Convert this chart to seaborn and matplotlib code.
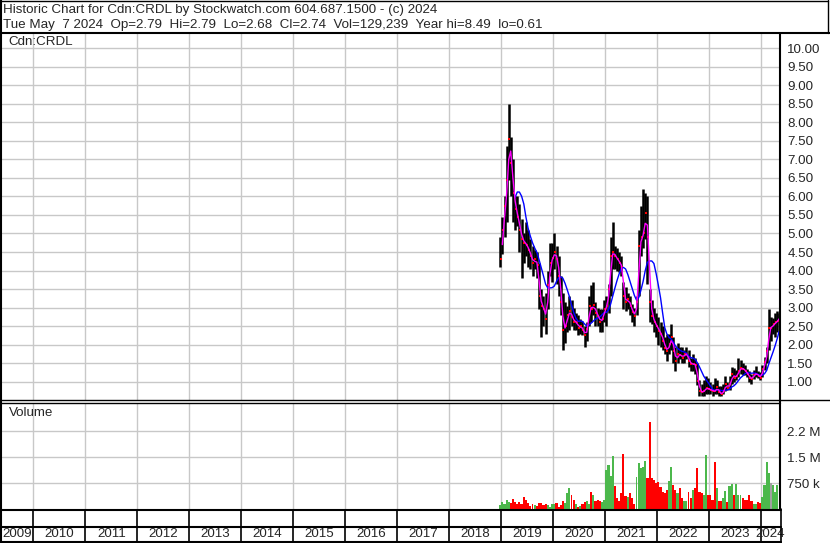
import numpy as np
import pandas as pd
import matplotlib
matplotlib.use("Agg")
import matplotlib.pyplot as plt
from matplotlib.lines import Line2D
import seaborn as sns

# semi-monthly bars, Dec 15 2018 .. May 7 2024
highs = [4.9, 5.45, 6.0, 7.35, 8.49, 7.6, 7.0, 6.0, 6.0, 5.8,
         5.4, 5.0, 5.3, 5.1, 4.85, 4.65, 4.55, 4.5, 4.2, 3.5,
         3.3, 3.4, 4.0, 4.75, 4.75, 5.0, 4.65, 4.4, 3.85, 3.4,
         3.15, 3.05, 3.3, 3.2, 3.0, 2.85, 2.8, 2.7, 2.65, 2.5,
         2.6, 3.3, 3.6, 3.7, 3.15, 3.0, 2.95, 2.95, 3.2, 3.3,
         3.65, 4.9, 5.3, 4.65, 4.6, 4.5, 4.4, 3.7, 3.55, 3.4,
         3.3, 3.1, 3.0, 3.3, 5.1, 5.75, 6.2, 6.1, 6.0, 3.5,
         3.2, 3.0, 2.85, 2.75, 2.6, 2.5, 2.2, 2.3, 2.3, 2.55,
         2.2, 1.95, 2.05, 1.95, 1.95, 1.85, 1.95, 1.85, 1.65, 1.75,
         1.65, 1.5, 1.05, 0.95, 1.05, 1.15, 1.1, 1.0, 0.95, 1.1,
         1.05, 0.88, 0.88, 0.95, 1.15, 1.0, 1.15, 1.4, 1.38, 1.32,
         1.65, 1.58, 1.5, 1.45, 1.35, 1.28, 1.22, 1.32, 1.42, 1.28,
         1.25, 1.45, 1.68, 1.95, 2.95, 2.75, 2.72, 2.85, 2.9, 2.85]
lows = [4.1, 4.45, 4.9, 5.3, 6.45, 6.0, 5.3, 5.1, 5.2, 4.5,
        3.8, 4.2, 4.4, 4.1, 4.05, 3.85, 4.05, 3.8, 2.95, 2.2,
        2.5, 2.3, 2.95, 3.85, 3.7, 4.05, 3.65, 3.3, 2.8, 1.85,
        2.05, 2.35, 2.4, 2.5, 2.4, 2.4, 2.25, 2.3, 2.25, 1.95,
        2.1, 2.5, 2.6, 2.8, 2.5, 2.5, 2.35, 2.35, 2.6, 2.5,
        2.85, 3.3, 4.05, 4.05, 4.0, 3.95, 3.85, 2.95, 2.9, 2.95,
        2.8, 2.6, 2.5, 2.8, 3.3, 4.4, 4.6, 4.85, 3.65, 2.6,
        2.55, 2.35, 2.2, 2.0, 1.95, 1.85, 1.75, 1.55, 1.75, 1.85,
        1.5, 1.3, 1.5, 1.6, 1.5, 1.5, 1.6, 1.4, 1.3, 1.3,
        1.2, 0.9, 0.62, 0.61, 0.62, 0.66, 0.66, 0.66, 0.62, 0.68,
        0.68, 0.62, 0.62, 0.68, 0.74, 0.78, 0.78, 0.95, 1.0, 1.05,
        1.12, 1.22, 1.18, 1.18, 1.12, 1.0, 0.95, 1.08, 1.12, 1.1,
        1.05, 1.12, 1.32, 1.5, 1.85, 2.1, 2.3, 2.2, 2.35, 2.6]
closes = [4.3, 5.1, 5.75, 6.45, 7.55, 6.9, 6.1, 5.65, 5.45, 5.1,
          4.85, 4.75, 4.7, 4.55, 4.4, 4.2, 4.3, 4.15, 3.3, 3.05,
          2.95, 2.7, 3.6, 4.2, 4.35, 4.5, 4.3, 3.85, 3.15, 2.4,
          2.5, 2.8, 2.9, 2.75, 2.6, 2.62, 2.45, 2.5, 2.4, 2.25,
          2.42, 3.05, 2.95, 3.07, 2.85, 2.78, 2.6, 2.7, 2.95, 3.05,
          3.5, 4.4, 4.5, 4.38, 4.3, 4.2, 4.1, 3.3, 3.15, 3.22,
          3.05, 2.88, 2.78, 3.14, 4.65, 4.9, 5.0, 5.55, 4.9, 3.15,
          2.78, 2.6, 2.5, 2.38, 2.28, 2.1, 1.92, 1.83, 2.01, 2.2,
          1.83, 1.56, 1.74, 1.73, 1.65, 1.74, 1.75, 1.56, 1.47, 1.48,
          1.46, 1.02, 0.75, 0.71, 0.76, 0.84, 0.8, 0.78, 0.75, 0.74,
          0.85, 0.71, 0.66, 0.75, 0.93, 0.84, 0.93, 1.2, 1.11, 1.16,
          1.29, 1.38, 1.34, 1.29, 1.2, 1.11, 1.07, 1.2, 1.22, 1.16,
          1.11, 1.34, 1.52, 1.83, 2.46, 2.46, 2.55, 2.6, 2.65, 2.74]
volumes_k = [125, 200, 145, 270, 200, 170, 290, 200, 145, 200,
             145, 345, 270, 170, 105, 145, 125, 105, 170, 170,
             125, 145, 125, 75, 145, 145, 170, 75, 125, 240,
             170, 460, 605, 415, 270, 145, 75, 95, 145, 220,
             240, 145, 490, 415, 240, 270, 240, 200, 270, 1130,
             1280, 960, 1540, 675, 320, 240, 460, 1590, 385, 365,
             460, 320, 145, 940, 1330, 1200, 1230, 1390, 900, 2530,
             895, 845, 750, 800, 655, 510, 480, 560, 815, 1210,
             700, 560, 460, 605, 315, 240, 240, 490, 315, 560,
             605, 1200, 510, 460, 415, 1570, 415, 415, 270, 1370,
             625, 240, 240, 315, 530, 220, 685, 730, 415, 730,
             415, 415, 335, 270, 270, 415, 240, 145, 145, 200,
             170, 365, 700, 1350, 1040, 750, 700, 510, 700, 270]

price_ticks = [1.0, 1.5, 2.0, 2.5, 3.0, 3.5, 4.0, 4.5, 5.0, 5.5,
               6.0, 6.5, 7.0, 7.5, 8.0, 8.5, 9.0, 9.5, 10.0]
vol_ticks = [750000, 1500000, 2250000]
vol_tick_labels = ["750 k", "1.5 M", "2.2 M"]
years = list(range(2009, 2025))

title_line1 = "Historic Chart for Cdn:CRDL by Stockwatch.com 604.687.1500 - (c) 2024"
title_line2 = ("Tue May  7 2024  Op=2.79  Hi=2.79  Lo=2.68  Cl=2.74  "
               "Vol=129,239  Year hi=8.49  lo=0.61")

W, H = 830, 543
GRID = "#c8c8c8"
FS = 9.6


def dec_year(ts):
    start = pd.Timestamp(year=ts.year, month=1, day=1)
    end = pd.Timestamp(year=ts.year + 1, month=1, day=1)
    return ts.year + (ts - start) / (end - start)


def box(l, t, r, b):
    return [l / W, 1 - b / H, (r - l) / W, (b - t) / H]


def fig_line(fig, x0, y0, x1, y1, lw=1.0):
    fig.add_artist(Line2D([x0 / W, x1 / W], [1 - y0 / H, 1 - y1 / H],
                          transform=fig.transFigure, color="black", lw=lw))


starts = list(pd.date_range("2018-12-15", "2024-05-01", freq="SMS"))
ends = starts[1:] + [pd.Timestamp("2024-05-08")]
df = pd.DataFrame({"high": highs, "low": lows, "close": closes,
                   "volume": np.array(volumes_k) * 1000})
df["t0"] = [dec_year(s) for s in starts]
df["t1"] = [dec_year(e) for e in ends]
df["x"] = (df["t0"] + df["t1"]) / 2
df["w"] = df["t1"] - df["t0"]
df["ma_short"] = df["close"].rolling(2).mean()
df["ma_long"] = df["close"].rolling(8).mean()
chg = df["close"].diff().fillna(1)
df["vcolor"] = np.where(chg > 0, "#4cb84c", np.where(chg < 0, "#ff0000", "#a0a0a0"))

sns.set_style("white")
plt.rcParams["font.family"] = ["Liberation Sans", "DejaVu Sans"]
plt.rcParams["font.size"] = FS

fig = plt.figure(figsize=(W / 100, H / 100), dpi=100)
xlim = (2009.398, 2024.34)

# price panel
ax = fig.add_axes(box(2, 33, 779, 401))
ax.set_xlim(*xlim)
ax.set_ylim(0.48, 10.41)
ax.set_xticks(years[1:])
ax.set_yticks(price_ticks)
ax.set_yticklabels([f"{v:.2f}" for v in price_ticks])
ax.grid(True, color=GRID, lw=1.0)
ax.yaxis.tick_right()
ax.tick_params(axis="y", length=0, pad=6, labelsize=FS)
ax.tick_params(axis="x", length=0, labelbottom=False)
for s in ax.spines.values():
    s.set_visible(False)
ax.vlines(df["x"], df["low"], df["high"], color="black", lw=1.8)
sns.scatterplot(x=df["x"] + 0.012, y=df["close"], ax=ax, color="#ff0000",
                marker="s", s=2.5, linewidth=0, zorder=3)
sns.lineplot(x=df["x"], y=df["ma_long"], ax=ax, color="#0000ff", lw=1.0,
             estimator=None, zorder=4)
sns.lineplot(x=df["x"], y=df["ma_short"], ax=ax, color="#ff00ff", lw=1.0,
             estimator=None, zorder=4)
ax.set_xlabel("")
ax.set_ylabel("")
ax.text(6 / 777, 1 - 9 / 368, "Cdn:CRDL", transform=ax.transAxes,
        ha="left", va="center", fontsize=FS)

# volume panel
axv = fig.add_axes(box(2, 403, 779, 509.3))
axv.set_xlim(*xlim)
axv.set_ylim(0, 3066000)
axv.set_xticks(years[1:])
axv.set_yticks(vol_ticks)
axv.set_yticklabels(vol_tick_labels)
axv.grid(True, color=GRID, lw=1.0)
axv.yaxis.tick_right()
axv.tick_params(axis="y", length=0, pad=6, labelsize=FS)
axv.tick_params(axis="x", length=0, labelbottom=False)
for s in axv.spines.values():
    s.set_visible(False)
axv.bar(df["x"], df["volume"], width=df["w"] * 0.95, color=df["vcolor"],
        linewidth=0)
axv.text(7 / 777, 1 - 10 / 106, "Volume", transform=axv.transAxes,
         ha="left", va="center", fontsize=FS)

# date band
axd = fig.add_axes(box(2, 510, 779, 542))
axd.set_xlim(*xlim)
axd.set_ylim(0, 1)
axd.axis("off")
for yr in years:
    lo = max(yr, xlim[0])
    hi = min(yr + 1, xlim[1])
    axd.text((lo + hi) / 2, 0.25, str(yr), ha="center", va="center",
             fontsize=FS)
    if yr > 2009:
        axd.axvline(yr, color="black", lw=1.2)

# frame lines
fig_line(fig, 0, 0.5, 828, 0.5)
fig_line(fig, 827.5, 0, 827.5, 33)
fig_line(fig, 1, 0, 1, 543, lw=1.5)
fig_line(fig, 0, 33, 830, 33, lw=1.5)
fig_line(fig, 779.5, 33, 779.5, 510, lw=1.5)
fig_line(fig, 0, 400.3, 830, 400.3)
fig_line(fig, 0, 403, 780, 403)
fig_line(fig, 0, 509.8, 781, 509.8, lw=1.5)
fig_line(fig, 0, 527, 781, 527, lw=1.5)
fig_line(fig, 0, 542, 781, 542, lw=1.5)
fig_line(fig, 781, 509, 781, 543, lw=1.2)

fig.text(3 / W, 1 - 9.5 / H, title_line1, ha="left", va="center", fontsize=FS)
fig.text(3 / W, 1 - 25 / H, title_line2, ha="left", va="center", fontsize=FS)

fig.savefig("out.png", dpi=100)
